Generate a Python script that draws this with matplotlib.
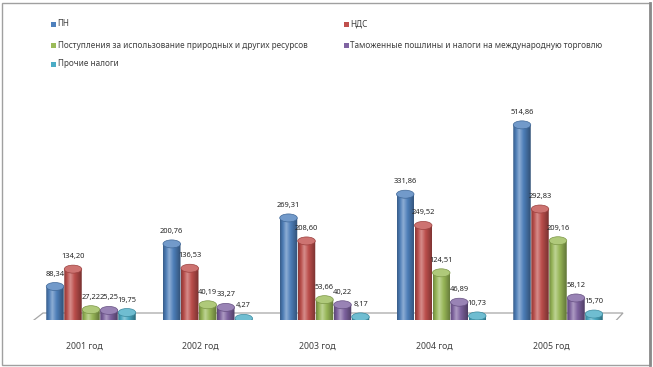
import numpy as np
import matplotlib
matplotlib.use("Agg")
import matplotlib.pyplot as plt
from matplotlib.colors import LinearSegmentedColormap, to_rgb
from matplotlib.patches import Ellipse, PathPatch, Polygon, Rectangle
from matplotlib.path import Path

plt.rcParams["font.family"] = ["Noto Sans", "DejaVu Sans"]

years = ["2001 год", "2002 год", "2003 год", "2004 год", "2005 год"]
series_names = [
    "ПН",
    "НДС",
    "Поступления за использование природных и других ресурсов",
    "Таможенные пошлины и налоги на международную торговлю",
    "Прочие налоги",
]
pn = [88.34, 200.76, 269.31, 331.86, 514.86]
nds = [134.20, 136.53, 208.60, 249.52, 292.83]
resources = [27.22, 40.19, 53.66, 124.51, 209.16]
customs = [25.25, 33.27, 40.22, 46.89, 58.12]
other = [19.75, 4.27, 8.17, 10.73, 15.70]
values = [pn, nds, resources, customs, other]
colors = ["#4F81BD", "#C0504D", "#9BBB59", "#8064A2", "#4BACC6"]

W, H = 653, 367
PX_GROUP = 116.75      # pixels between group centres
X0 = 91                # pixel x of first group centre
BASE = 47              # pixel y (from bottom) of bar base
PX_Y = 0.379           # pixels per value unit
LABEL_FONT = ["Liberation Sans Narrow", "Noto Sans", "DejaVu Sans"]

fig = plt.figure(figsize=(W / 100, H / 100), dpi=100)
fig.patch.set_facecolor("white")
ax = fig.add_axes([0, BASE / H, 1, (H - BASE) / H])
ax.axis("off")

# floor of the 3D plot
floor_px = [(25, 327), (610, 327), (623, 313), (43, 313)]
floor = Polygon([(x / W, 1 - y / H) for x, y in floor_px], closed=True,
                transform=fig.transFigure, facecolor="white", edgecolor="#a6a6a6",
                lw=0.9, zorder=0)
ax.add_patch(floor)
ax.add_line(plt.Line2D([25 / W, 610 / W], [1 - 328.5 / H, 1 - 328.5 / H],
                       transform=fig.transFigure, color="#d6d6d6", lw=1.2, zorder=0))


def shade_cmap(c):
    c = np.array(to_rgb(c))
    white = np.ones(3)
    stops = [
        (0.0, c * 0.72),
        (0.15, c * 0.95),
        (0.35, c + (white - c) * 0.35),
        (0.6, c * 0.97),
        (1.0, c * 0.62),
    ]
    return LinearSegmentedColormap.from_list("cyl", stops)


bw = 17.5 / PX_GROUP
step = 18 / PX_GROUP
eh = 8 / PX_Y
grad = np.linspace(0, 1, 64).reshape(1, -1)
x = np.arange(len(years))

for i, (vals, col) in enumerate(zip(values, colors)):
    cmap = shade_cmap(col)
    top_col = np.array(to_rgb(col))
    top_col = top_col + (1 - top_col) * 0.2
    for xc, v in zip(x + (i - 2) * step, vals):
        x0, x1 = xc - bw / 2, xc + bw / 2
        t = np.linspace(np.pi, 2 * np.pi, 30)
        bottom = np.column_stack([xc + bw / 2 * np.cos(t), eh / 2 * np.sin(t)])
        verts = np.vstack([[x0, v], bottom, [x1, v], [x0, v]])
        codes = [Path.MOVETO] + [Path.LINETO] * (len(verts) - 2) + [Path.CLOSEPOLY]
        body = PathPatch(Path(verts, codes), facecolor="none", edgecolor="none", zorder=2)
        ax.add_patch(body)
        im = ax.imshow(grad, cmap=cmap, aspect="auto", extent=(x0, x1, -eh / 2, v),
                       zorder=2, interpolation="bilinear")
        im.set_clip_path(body)
        ax.add_patch(Ellipse((xc, v), bw, eh, facecolor=top_col,
                             edgecolor=np.array(to_rgb(col)) * 0.8, lw=0.5, zorder=3))
        ax.annotate(f"{v:.2f}".replace(".", ","), (xc, v), xytext=(0, 9),
                    textcoords="offset points", ha="center", va="center",
                    fontsize=5.4, fontweight="bold", color="#262626", zorder=4,
                    family=LABEL_FONT)

ax.set_xlim(-X0 / PX_GROUP, (W - X0) / PX_GROUP)
ax.set_ylim(0, (H - BASE) / PX_Y)

for xi, lab in zip(x, years):
    ax.text(xi - 0.06, -26 / PX_Y, lab, ha="center", va="center",
            fontsize=6.3, color="#404040")

# legend laid out row by row like the Excel original
leg_pos = [(51, 24), (344, 24), (51, 45), (344, 45), (51, 64)]
for (px, py), name, col in zip(leg_pos, series_names, colors):
    fig.patches.append(Rectangle((px / W, 1 - (py + 2.5) / H), 4.5 / W, 5 / H,
                                 transform=fig.transFigure, facecolor=col,
                                 edgecolor="none"))
    fig.text((px + 6.5) / W, 1 - py / H, name, ha="left", va="center",
             fontsize=5.9, color="#404040")

# chart frame
fig.patches.append(Rectangle((2 / W, 2 / H), 648 / W, 362 / H, transform=fig.transFigure,
                             facecolor="none", edgecolor="#a0a0a0", lw=1))
fig.lines.append(plt.Line2D([650 / W, 650 / W], [2 / H, 1 - 3 / H],
                            transform=fig.transFigure, color="#8a8a8a", lw=2))

fig.savefig("out.png", dpi=100)
